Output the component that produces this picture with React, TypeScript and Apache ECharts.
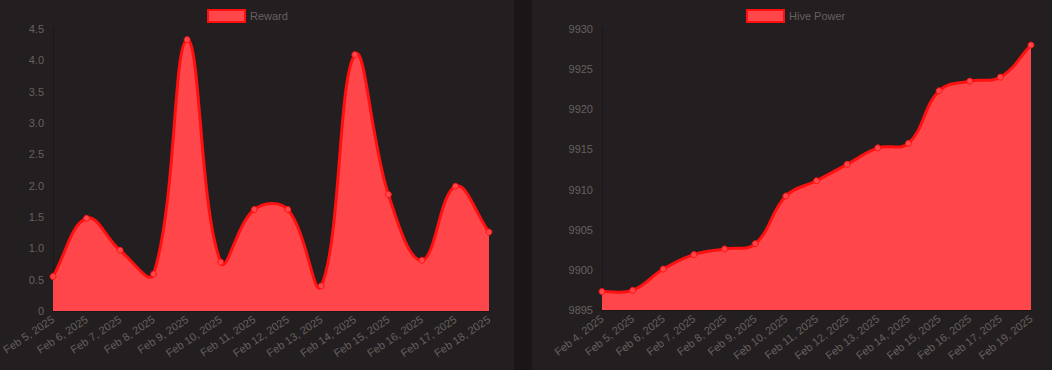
import React, { useEffect, useRef } from "react";
import * as echarts from "echarts";

const rewardDates = [
  "Feb 5, 2025", "Feb 6, 2025", "Feb 7, 2025", "Feb 8, 2025", "Feb 9, 2025",
  "Feb 10, 2025", "Feb 11, 2025", "Feb 12, 2025", "Feb 13, 2025", "Feb 14, 2025",
  "Feb 15, 2025", "Feb 16, 2025", "Feb 17, 2025", "Feb 18, 2025",
];
const rewardValues = [0.55, 1.48, 0.97, 0.59, 4.33, 0.78, 1.62, 1.62, 0.4, 4.09, 1.86, 0.81, 1.99, 1.26];

const hpDates = [
  "Feb 4, 2025", "Feb 5, 2025", "Feb 6, 2025", "Feb 7, 2025", "Feb 8, 2025",
  "Feb 9, 2025", "Feb 10, 2025", "Feb 11, 2025", "Feb 12, 2025", "Feb 13, 2025",
  "Feb 14, 2025", "Feb 15, 2025", "Feb 16, 2025", "Feb 17, 2025", "Feb 19, 2025",
];
const hpValues = [
  9897.3, 9897.45, 9900.1, 9901.9, 9902.6, 9903.25, 9909.2, 9911.1,
  9913.15, 9915.2, 9915.75, 9922.3, 9923.5, 9924.0, 9928.0,
];

const FONT = "'Liberation Sans', Arial, Helvetica, sans-serif";
const LINE = "#ff1010";
const FILL = "#ff464b";
const TEXT = "#666060";
const PANEL = "#231e1f";
const FS = 11;
const TENSION = 0.4;

// Chart.js-style cubic spline through pixel points
function splinePaths(pts: number[][], area: { x: number; y: number; width: number; height: number }) {
  const n = pts.length;
  const cps: { prev: number[]; next: number[] }[] = [];
  const clampX = (v: number) => Math.max(area.x, Math.min(area.x + area.width, v));
  const clampY = (v: number) => Math.max(area.y, Math.min(area.y + area.height, v));
  for (let i = 0; i < n; i++) {
    const cur = pts[i];
    const prev = i > 0 ? pts[i - 1] : cur;
    const next = i < n - 1 ? pts[i + 1] : cur;
    const d01 = Math.hypot(cur[0] - prev[0], cur[1] - prev[1]);
    const d12 = Math.hypot(next[0] - cur[0], next[1] - cur[1]);
    let s01 = d01 / (d01 + d12);
    let s12 = d12 / (d01 + d12);
    if (isNaN(s01)) s01 = 0;
    if (isNaN(s12)) s12 = 0;
    const fa = TENSION * s01;
    const fb = TENSION * s12;
    cps.push({
      prev: [clampX(cur[0] - fa * (next[0] - prev[0])), clampY(cur[1] - fa * (next[1] - prev[1]))],
      next: [clampX(cur[0] + fb * (next[0] - prev[0])), clampY(cur[1] + fb * (next[1] - prev[1]))],
    });
  }
  let d = `M${pts[0][0]},${pts[0][1]}`;
  for (let i = 0; i < n - 1; i++) {
    const a = cps[i].next;
    const b = cps[i + 1].prev;
    const p = pts[i + 1];
    d += ` C${a[0]},${a[1]} ${b[0]},${b[1]} ${p[0]},${p[1]}`;
  }
  const bottom = area.y + area.height;
  const fillD = `${d} L${pts[n - 1][0]},${bottom} L${pts[0][0]},${bottom} Z`;
  return { lineD: d, fillD };
}

function buildOption(
  name: string,
  dates: string[],
  values: number[],
  yMin: number,
  yMax: number,
  interval: number,
  grid: any,
  legendLeft: number,
  rotate: number,
  yFormat: (v: number) => string
) {
  return {
    animation: false,
    backgroundColor: PANEL,
    textStyle: { fontFamily: FONT },
    legend: {
      show: true,
      top: 9,
      left: legendLeft,
      padding: 0,
      icon: "rect",
      itemWidth: 37,
      itemHeight: 12,
      itemGap: 10,
      textStyle: { color: TEXT, fontSize: FS, fontFamily: FONT },
      data: [
        {
          name,
          icon: "rect",
          itemStyle: { color: FILL, borderColor: LINE, borderWidth: 2 },
        },
      ],
    },
    grid: { ...grid, outerBoundsMode: "none", containLabel: false },
    xAxis: {
      type: "category",
      data: dates,
      boundaryGap: false,
      axisLine: { show: true, lineStyle: { color: "rgba(0,0,0,0.25)" } },
      axisTick: { show: false },
      splitLine: { show: false },
      axisLabel: {
        color: TEXT,
        fontSize: FS,
        fontFamily: FONT,
        rotate,
        interval: 0,
        margin: 7,
      },
    },
    yAxis: {
      type: "value",
      min: yMin,
      max: yMax,
      interval,
      axisLine: { show: true, lineStyle: { color: "rgba(0,0,0,0.25)" } },
      axisTick: { show: false },
      splitLine: { show: false },
      axisLabel: {
        color: TEXT,
        fontSize: FS,
        fontFamily: FONT,
        margin: 9,
        formatter: yFormat,
      },
    },
    series: [
      {
        name: name + " curve",
        type: "custom",
        data: [[0, values[0]]],
        clip: true,
        z: 1,
        silent: true,
        renderItem: (params: any, api: any) => {
          const area = params.coordSys;
          const pts = values.map((v, i) => api.coord([i, v]));
          const { lineD, fillD } = splinePaths(pts, area);
          return {
            type: "group",
            children: [
              { type: "path", shape: { pathData: fillD }, style: { fill: FILL, stroke: "none" } },
              {
                type: "path",
                shape: { pathData: lineD },
                style: { fill: "none", stroke: LINE, lineWidth: 3, lineJoin: "round" },
              },
            ],
          };
        },
      },
      {
        name,
        type: "line",
        data: values,
        z: 3,
        symbol: "circle",
        symbolSize: 6,
        showSymbol: true,
        lineStyle: { width: 0, opacity: 0 },
        itemStyle: { color: FILL, borderColor: LINE, borderWidth: 1 },
      },
    ],
  };
}

function Chart({ option, style }: { option: any; style: React.CSSProperties }) {
  const ref = useRef<HTMLDivElement>(null);
  useEffect(() => {
    if (!ref.current) return;
    const chart = echarts.init(ref.current, undefined, { renderer: "svg" });
    chart.setOption(option);
    return () => chart.dispose();
  }, [option]);
  return <div ref={ref} style={style} />;
}

const leftOption = buildOption(
  "Reward",
  rewardDates,
  rewardValues,
  0,
  4.5,
  0.5,
  { left: 53, right: 25, top: 29, bottom: 59 },
  207,
  34,
  (v: number) => (v === 0 ? "0" : v.toFixed(1))
);

const rightOption = buildOption(
  "Hive Power",
  hpDates,
  hpValues,
  9895,
  9930,
  5,
  { left: 70, right: 21, top: 29, bottom: 60 },
  214,
  38,
  (v: number) => String(Math.round(v))
);

export default function App() {
  useEffect(() => {
    document.body.style.margin = "0";
  }, []);
  return (
    <div
      style={{
        position: "fixed",
        left: 0,
        top: 0,
        width: 1052,
        height: 370,
        background: "#1a1617",
      }}
    >
      <Chart
        option={leftOption}
        style={{ position: "absolute", left: 0, top: 0, width: 514, height: 370 }}
      />
      <Chart
        option={rightOption}
        style={{ position: "absolute", left: 532, top: 0, width: 520, height: 370 }}
      />
    </div>
  );
}
